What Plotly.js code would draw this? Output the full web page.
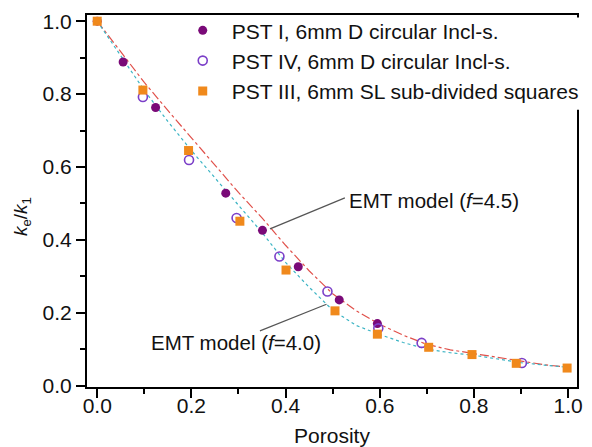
<!DOCTYPE html>
<html>
<head>
<meta charset="utf-8">
<script src="https://cdn.plot.ly/plotly-3.0.1.min.js"></script>
<style>html,body{margin:0;padding:0;background:#fff;}#chart{width:592px;height:447px;}</style>
</head>
<body>
<div id="chart"></div>
<script>
// Measured data points
const pst1X = [0, 0.055, 0.124, 0.273, 0.351, 0.427, 0.514, 0.595];
const pst1Y = [1.0, 0.888, 0.763, 0.528, 0.426, 0.326, 0.235, 0.170];
const pst4X = [0.097, 0.195, 0.296, 0.387, 0.489, 0.597, 0.689, 0.902];
const pst4Y = [0.792, 0.619, 0.460, 0.354, 0.258, 0.157, 0.117, 0.062];
const pst3X = [0, 0.097, 0.194, 0.303, 0.401, 0.505, 0.595, 0.704, 0.796, 0.890, 0.998];
const pst3Y = [1.0, 0.811, 0.645, 0.451, 0.317, 0.205, 0.141, 0.105, 0.085, 0.061, 0.048];
// EMT model curves
const emtX = [0, 0.05, 0.1, 0.15, 0.2, 0.25, 0.3, 0.35, 0.4, 0.45, 0.5, 0.55, 0.6, 0.65, 0.7, 0.75, 0.8, 0.85, 0.9, 0.95, 1.0];
const emt45Y = [1.0, 0.915, 0.832, 0.755, 0.68, 0.605, 0.53, 0.46, 0.385, 0.315, 0.252, 0.205, 0.168, 0.138, 0.113, 0.098, 0.088, 0.076, 0.066, 0.057, 0.05];
const emt40Y = [1.0, 0.905, 0.81, 0.725, 0.645, 0.57, 0.495, 0.42, 0.338, 0.27, 0.207, 0.165, 0.14, 0.118, 0.1, 0.09, 0.083, 0.073, 0.063, 0.056, 0.05];
const seriesNames = ['PST I, 6mm D circular Incl-s.', 'PST IV, 6mm D circular Incl-s.', 'PST III, 6mm SL sub-divided squares'];
const tickVals = [0, 0.2, 0.4, 0.6, 0.8, 1.0];
const tickText = ['0.0', '0.2', '0.4', '0.6', '0.8', '1.0'];
const labels = ['EMT model (<i>f</i>=4.5)', 'EMT model (<i>f</i>=4.0)'];
const yTitle = '<i>k</i><sub>e</sub>/<i>k</i><sub>1</sub>';
const xTitle = 'Porosity';

const FONT = 'Liberation Sans, Arial, sans-serif';

const traces = [
  {x: emtX, y: emt45Y, mode: 'lines', line: {color: '#e0504a', width: 1.2, dash: 'dashdot'}, showlegend: false, hoverinfo: 'skip'},
  {x: emtX, y: emt40Y, mode: 'lines', line: {color: '#3cb4c4', width: 1.2, dash: 'dot'}, showlegend: false, hoverinfo: 'skip'},
  {x: pst1X, y: pst1Y, mode: 'markers', name: seriesNames[0], marker: {symbol: 'circle', size: 9, color: '#7a0a78'}},
  {x: pst4X, y: pst4Y, mode: 'markers', name: seriesNames[1], marker: {symbol: 'circle-open', size: 9, color: '#7b3fc8', line: {width: 1.6}}},
  {x: pst3X, y: pst3Y, mode: 'markers', name: seriesNames[2], marker: {symbol: 'square', size: 9, color: '#f0891c'}}
];

const axisCommon = {
  showgrid: false, zeroline: false, showline: true, linewidth: 2, linecolor: '#000', mirror: true,
  ticks: 'outside', ticklen: 9, tickwidth: 2, tickcolor: '#000',
  tickvals: tickVals, ticktext: tickText,
  tickfont: {family: FONT, size: 21, color: '#111'},
  minor: {dtick: 0.1, tick0: 0, ticks: 'outside', ticklen: 5, tickwidth: 2, tickcolor: '#000'}
};

const layout = {
  width: 592, height: 447,
  margin: {l: 87, r: 15, t: 15, b: 60, autoexpand: false},
  paper_bgcolor: '#fff', plot_bgcolor: '#fff',
  font: {family: FONT, size: 21, color: '#111'},
  xaxis: Object.assign({}, axisCommon, {range: [-0.0217, 1.019], ticklabelstandoff: -10,
    title: {text: xTitle, font: {family: FONT, size: 21, color: '#111'}, standoff: 13}}),
  yaxis: Object.assign({}, axisCommon, {range: [-0.004, 1.017], ticklabelstandoff: 0}),
  legend: {x: 0.177, y: 1.013, xanchor: 'left', yanchor: 'top', bgcolor: 'rgba(0,0,0,0)', borderwidth: 0,
    font: {family: FONT, size: 21, color: '#111'}, itemwidth: 48, tracegroupgap: 0},
  annotations: [
    {x: 0.530, y: 0.508, xref: 'x', yref: 'y', text: labels[0], showarrow: false, xanchor: 'left', yanchor: 'middle', font: {family: FONT, size: 20.5, color: '#111'}},
    {x: 0.1095, y: 0.1186, xref: 'x', yref: 'y', text: labels[1], showarrow: false, xanchor: 'left', yanchor: 'middle', font: {family: FONT, size: 20.5, color: '#111'}},
    {x: -0.133, y: 0.459, xref: 'paper', yref: 'paper', text: yTitle, showarrow: false, textangle: -90, xanchor: 'center', yanchor: 'middle', font: {family: FONT, size: 19, color: '#111'}}
  ],
  shapes: [
    {type: 'line', xref: 'x', yref: 'y', x0: 0.367, y0: 0.430, x1: 0.526, y1: 0.515, line: {color: '#555', width: 1.2}},
    {type: 'line', xref: 'x', yref: 'y', x0: 0.487, y0: 0.223, x1: 0.3456, y1: 0.150, line: {color: '#555', width: 1.2}},
    {type: 'rect', xref: 'paper', yref: 'paper', layer: 'above', x0: 0.985, x1: 1.03, y0: 0.745, y1: 0.993, fillcolor: '#fff', line: {width: 0}}
  ]
};

Plotly.newPlot('chart', traces, layout, {staticPlot: true, displayModeBar: false});
</script>
</body>
</html>
